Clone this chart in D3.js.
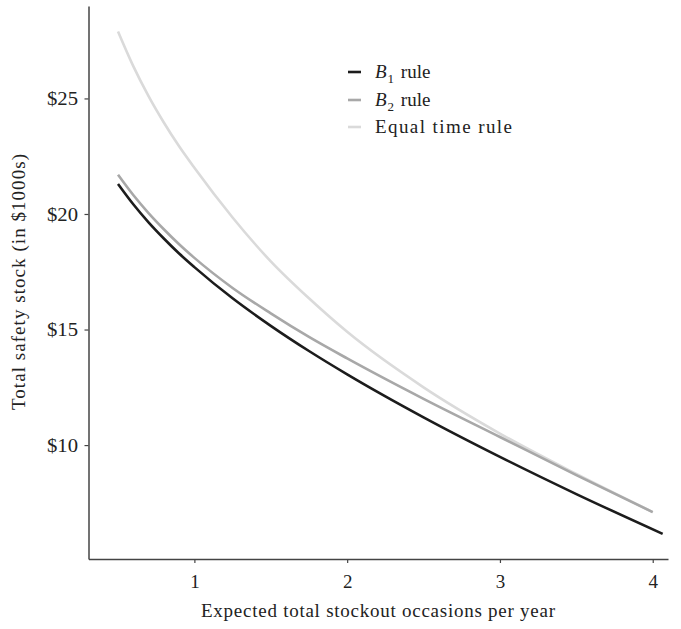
<!DOCTYPE html>
<html>
<head>
<meta charset="utf-8">
<script src="https://cdn.jsdelivr.net/npm/d3@7"></script>
<style>
  html, body { margin: 0; padding: 0; background: #fff; }
  svg { display: block; }
  text { font-family: "Liberation Serif", "DejaVu Serif", serif; fill: #222; }
</style>
</head>
<body>
<svg id="chart" width="681" height="629"></svg>
<script>
// Data
const xB1 = [0.5, 0.6, 0.7, 0.8, 0.9, 1.0, 1.25, 1.5, 1.75, 2.0, 2.5, 3.0, 3.5, 4.065];
const yB1 = [21.3, 20.42, 19.64, 18.94, 18.29, 17.70, 16.35, 15.16, 14.07, 13.06, 11.20, 9.49, 7.88, 6.16];
const xB2 = [0.5, 0.6, 0.7, 0.8, 0.9, 1.0, 1.25, 1.5, 1.75, 2.0, 2.5, 3.0, 3.5, 4.0];
const yB2 = [21.7, 20.82, 20.04, 19.34, 18.69, 18.10, 16.80, 15.70, 14.68, 13.75, 12.0, 10.35, 8.70, 7.1];
const xEq = [0.5, 0.6, 0.7, 0.8, 0.9, 1.0, 1.25, 1.5, 1.75, 2.0, 2.5, 3.0, 3.5, 4.0];
const yEq = [27.9, 26.40, 25.10, 23.96, 22.93, 22.0, 19.85, 17.95, 16.35, 14.90, 12.50, 10.50, 8.75, 7.1];
const xTicks = [1, 2, 3, 4];
const yTicks = [10, 15, 20, 25];
const seriesNames = ["B1 rule", "B2 rule", "Equal time rule"];
const seriesColors = ["#1c1c1c", "#a8a8a8", "#dadada"];

const svg = d3.select("#chart");
const mLeft = 88.5, mRight = 668, mTop = 6, mBottom = 559;
const FS = 19;

const x = d3.scaleLinear().domain([0.307, 4.10]).range([mLeft, mRight]);
const y = d3.scaleLinear().domain([5.07, 29.0]).range([mBottom, mTop]);

// Axes
const xAxis = d3.axisBottom(x).tickValues(xTicks).tickFormat(d3.format("d")).tickSize(4).tickSizeOuter(0);
const yAxis = d3.axisLeft(y).tickValues(yTicks).tickFormat(d => "$" + d).tickSize(4).tickSizeOuter(0);

const gx = svg.append("g").attr("transform", `translate(0,${mBottom})`).call(xAxis);
gx.select(".domain").attr("stroke", "#444").attr("stroke-width", 1.5);
gx.selectAll(".tick line").attr("stroke", "#444").attr("stroke-width", 1.2);
gx.selectAll(".tick text").attr("font-size", FS).attr("font-family", "Liberation Serif")
  .attr("fill", "#222").attr("y", 16).attr("dy", "0.71em");

const gy = svg.append("g").attr("transform", `translate(${mLeft},0)`).call(yAxis);
gy.select(".domain").attr("stroke", "#444").attr("stroke-width", 1.5);
gy.selectAll(".tick line").attr("stroke", "#444").attr("stroke-width", 1.2);
gy.selectAll(".tick text").attr("font-size", FS).attr("font-family", "Liberation Serif")
  .attr("fill", "#222").attr("x", -10.5).attr("textLength", 31).attr("lengthAdjust", "spacingAndGlyphs");

// Axis titles
svg.append("text").attr("x", 378).attr("y", 617).attr("text-anchor", "middle")
  .attr("font-size", FS).attr("textLength", 354).attr("lengthAdjust", "spacing")
  .text("Expected total stockout occasions per year");
svg.append("text").attr("transform", "translate(25,282) rotate(-90)").attr("text-anchor", "middle")
  .attr("font-size", FS).attr("textLength", 256).attr("lengthAdjust", "spacing")
  .text("Total safety stock (in $1000s)");

// Lines
const series = [
  {xs: xEq, ys: yEq, color: seriesColors[2]},
  {xs: xB2, ys: yB2, color: seriesColors[1]},
  {xs: xB1, ys: yB1, color: seriesColors[0]}
];
const line = d3.line().x(d => x(d[0])).y(d => y(d[1])).curve(d3.curveMonotoneX);
series.forEach(s => {
  svg.append("path")
    .datum(s.xs.map((v, i) => [v, s.ys[i]]))
    .attr("fill", "none").attr("stroke", s.color).attr("stroke-width", 2.6)
    .attr("d", line);
});

// Legend
const legY = [72, 100, 127];
const leg = svg.append("g");
seriesNames.forEach((name, i) => {
  leg.append("line").attr("x1", 348).attr("x2", 361).attr("y1", legY[i]).attr("y2", legY[i])
    .attr("stroke", seriesColors[i]).attr("stroke-width", 2.6);
  const t = leg.append("text").attr("x", 375).attr("y", legY[i] + 6).attr("font-size", FS);
  if (i < 2) {
    t.append("tspan").attr("font-style", "italic").text("B");
    t.append("tspan").attr("font-size", 13).attr("dy", 5).attr("dx", 1).text(String(i + 1));
    t.append("tspan").attr("dy", -5).attr("dx", 2).text(" rule");
  } else {
    t.attr("textLength", 137).attr("lengthAdjust", "spacing").text(name);
  }
});
</script>
</body>
</html>
